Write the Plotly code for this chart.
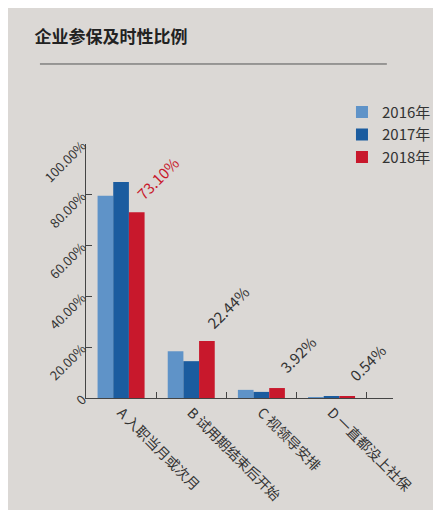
import plotly.graph_objects as go

categories = ["A 入职当月或次月", "B 试用期结束后开始", "C 视领导安排", "D 一直都没上社保"]
years = ["2016年", "2017年", "2018年"]
values_2016 = [79.6, 18.4, 3.2, 0.3]
values_2017 = [85.0, 14.5, 2.4, 0.4]
values_2018 = [73.10, 22.44, 3.92, 0.54]
labels_2018 = ["73.10%", "22.44%", "3.92%", "0.54%"]
y_ticks = [0, 20, 40, 60, 80, 100]
y_tick_text = ["0", "20.00%", "40.00%", "60.00%", "80.00%", "100.00%"]

colors = ["#5f93c8", "#1b5c9f", "#c8182c"]
label_colors = ["#c8182c", "#333333", "#333333", "#333333"]

fig = go.Figure()
for name, vals, col in zip(years, [values_2016, values_2017, values_2018], colors):
    fig.add_trace(go.Bar(x=categories, y=vals, name=name, marker_color=col,
                         marker_line_width=0))

# labels for the 2018 series, slanted up from the top of the red bar
for cat, val, lab, lc in zip(categories, values_2018, labels_2018, label_colors):
    fig.add_annotation(x=cat, y=val, text=lab, showarrow=False, textangle=-45,
                       xshift=36, yshift=34, font=dict(size=15, color=lc))

fig.update_layout(
    width=441, height=510,
    margin=dict(l=78, r=56, t=136, b=120),
    paper_bgcolor="#dbd8d5", plot_bgcolor="rgba(0,0,0,0)",
    font=dict(family="Noto Sans CJK SC", color="#333333"),
    barmode="group", bargap=0.33, bargroupgap=0,
    showlegend=True,
    legend=dict(x=1.14, y=1.19, xanchor="right", yanchor="top",
                font=dict(size=15, color="#333333"), bgcolor="rgba(0,0,0,0)",
                itemwidth=30, tracegroupgap=2),
    title=dict(text="<b>企业参保及时性比例</b>", x=0.06, xanchor="left", y=0.955,
               font=dict(size=17, color="#222222")),
)
fig.add_shape(type="line", xref="paper", yref="paper", x0=-0.15, x1=0.98,
              y0=1.315, y1=1.315, line=dict(color="#555555", width=1))

fig.update_yaxes(range=[0, 100], tickvals=y_ticks, ticktext=y_tick_text,
                 tickangle=-45, ticks="inside", ticklen=6, tickcolor="#444444",
                 showline=True, linecolor="#444444", linewidth=1,
                 showgrid=False, zeroline=False, tickfont=dict(size=13, color="#333333"))
fig.update_xaxes(tickangle=45, ticks="inside", tickson="boundaries", ticklen=6,
                 tickcolor="#444444", showline=True, linecolor="#444444", linewidth=1,
                 showgrid=False, tickfont=dict(size=14, color="#333333"))

fig.write_html("out.html")
